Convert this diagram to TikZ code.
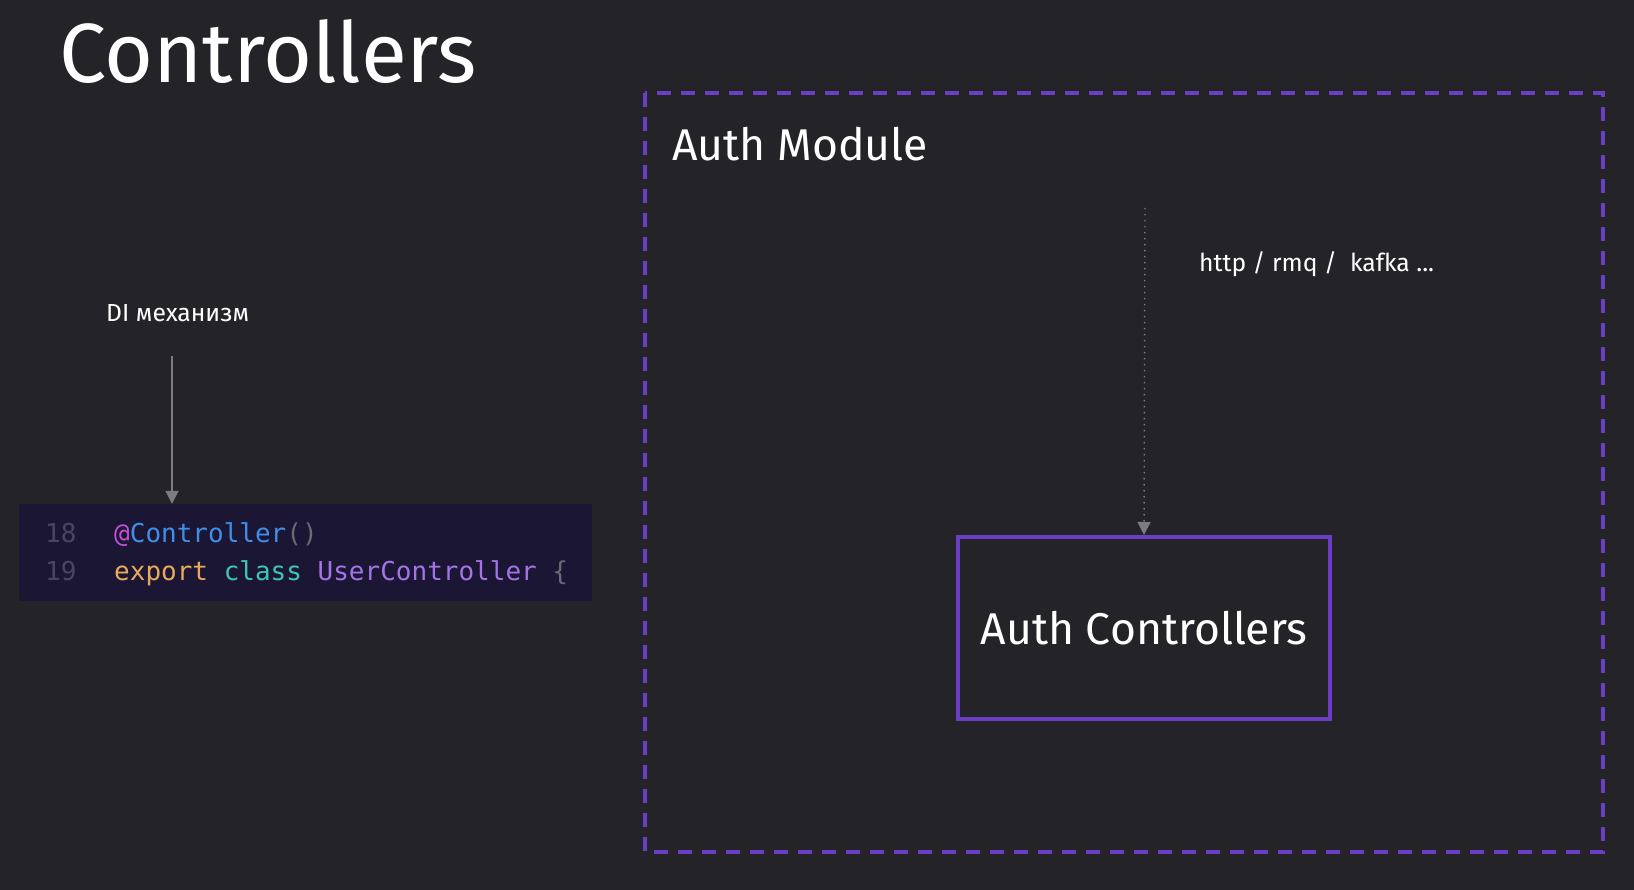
\documentclass[tikz,border=0pt]{standalone}
\usepackage{fontspec}
\setmainfont{Fira Sans}
\setmonofont{DejaVu Sans Mono}
\usetikzlibrary{arrows.meta,positioning}
\definecolor{bg}{HTML}{242328}
\definecolor{codebg}{HTML}{1A1634}
\definecolor{modpurple}{HTML}{6A3FC6}
\definecolor{arrgray}{HTML}{7C7C80}
\definecolor{lnum}{HTML}{4A4560}
\definecolor{cmag}{HTML}{C24FD6}
\definecolor{cblue}{HTML}{3E8FE6}
\definecolor{cparen}{HTML}{6A6A74}
\definecolor{corange}{HTML}{E9A95C}
\definecolor{cteal}{HTML}{3CC7B2}
\definecolor{cviolet}{HTML}{A474E6}
\begin{document}
\begin{tikzpicture}[
x=1pt, y=-1pt,
txt/.style={anchor=base west, inner sep=0pt, text=white},
lbl/.style={txt, font=\fontsize{24.7}{27}\selectfont},
codeln/.style={anchor=base west, inner sep=0pt, font=\ttfamily\fontsize{26}{28}\selectfont},
arr/.style={-{Triangle[width=13pt,length=13pt]}, arrgray, line width=1.8pt}
]
\fill[bg] (0,0) rectangle (1634,890);
\useasboundingbox (0,0) rectangle (1634,890);
% title
\node[txt, font=\fontsize{84}{90}\selectfont] (title) at (59,83) {Controllers};
% left side: DI and code
\node[lbl] (di) at (106,322) {DI механизм};
\node[fill=codebg, minimum width=573pt, minimum height=97pt, inner sep=0pt] (code) at (305.5,552.5) {};
\node[codeln, text=lnum] (ln1) at (45,542) {18};
\node[codeln, text=lnum] (ln2) at (45,580) {19};
\node[codeln] (cl1) at (114,542) {\textcolor{cmag}{@}\textcolor{cblue}{Controller}\textcolor{cparen}{()}};
\node[codeln] (cl2) at (114,580) {\textcolor{corange}{export} \textcolor{cteal}{class} \textcolor{cviolet}{UserController} \textcolor{cparen}{\{}};
\coordinate (distart) at (172,356);
\draw[arr] (distart) -- (distart |- code.north);
% right side: module
\draw[modpurple, line width=3.5pt, dash pattern=on 14pt off 10pt] (645,93) rectangle (1603,852);
\node[txt, font=\fontsize{44.5}{48}\selectfont] (mod) at (672,161) {Auth Module};
\node[draw=modpurple, line width=4pt, minimum width=372pt, minimum height=182pt, inner sep=0pt,
  text=white, font=\fontsize{44.5}{48}\selectfont] (ctrl) at (1144,628) {Auth Controllers};
\node[lbl] (proto) at (1199,272) {http / rmq /\ \ kafka ...};
\coordinate (protostart) at (1145,208);
\draw[arr, line width=1.4pt, dash pattern=on 1.5pt off 4.5pt] (protostart) -- (ctrl.north);
\end{tikzpicture}
\end{document}
